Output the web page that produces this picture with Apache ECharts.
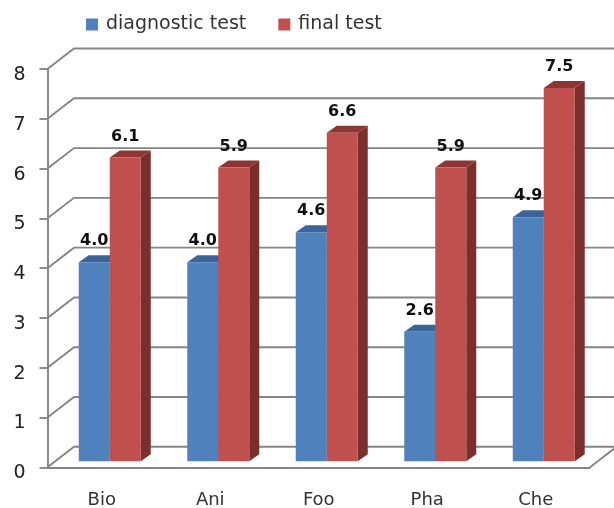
<!DOCTYPE html>
<html><head><meta charset='utf-8'>
<script src='https://cdn.jsdelivr.net/npm/echarts@6/dist/echarts.min.js'></script>
<style>html,body{margin:0;padding:0;background:#fff}</style>
</head><body><div id='chart' style='width:614px;height:508px'></div><script>
var categories = ['Bio', 'Ani', 'Foo', 'Pha', 'Che'];
var yTicks = [0, 1, 2, 3, 4, 5, 6, 7, 8];
var diagnostic = [4.0, 4.0, 4.6, 2.6, 4.9];
var finalTest = [6.1, 5.9, 6.6, 5.9, 7.5];

var font = '"DejaVu Sans", sans-serif';
var gridColor = '#858585';
var gridWidth = 1.9;
// fake 3d: how far the back wall sits from the axis plane
var wallDx = 26.5, wallDy = -20.5;
// bars stand a bit behind the axis plane and have their own depth
var barShiftX = 8, barShiftY = -6, barWidth = 31, barDx = 10, barDy = -7;

function wallItem(params, api) {
  var v = api.value(1);
  var band = api.size([1, 0])[0];
  var p = api.coord([0, v]);
  var x0 = p[0] - band / 2;
  var x1 = api.coord([categories.length - 1, v])[0] + band / 2;
  var children = [{
    type: 'polyline',
    shape: { points: [[x0, p[1]], [x0 + wallDx, p[1] + wallDy], [x1 + wallDx, p[1] + wallDy]] },
    style: { stroke: gridColor, lineWidth: gridWidth, fill: null }
  }];
  if (v === 0) {
    // right edge of the floor
    children.push({
      type: 'line',
      shape: { x1: x1, y1: p[1], x2: x1 + wallDx, y2: p[1] + wallDy },
      style: { stroke: gridColor, lineWidth: gridWidth }
    });
  }
  return { type: 'group', children: children };
}

function barRenderer(slot, front, side, top) {
  return function (params, api) {
    var i = api.value(0), v = api.value(1);
    var c = api.coord([i, v]);
    var base = api.coord([i, 0])[1] + barShiftY;
    var y = c[1] + barShiftY;
    var x = c[0] + barShiftX + (slot - 1) * barWidth;
    var r = x + barWidth;
    return {
      type: 'group',
      children: [
        { type: 'polygon', shape: { points: [[r, base], [r + barDx, base + barDy], [r + barDx, y + barDy], [r, y]] }, style: { fill: side } },
        { type: 'polygon', shape: { points: [[x, y], [x + barDx, y + barDy], [r + barDx, y + barDy], [r, y]] }, style: { fill: top } },
        { type: 'rect', shape: { x: x, y: y, width: barWidth, height: base - y }, style: { fill: front } },
        { type: 'text', style: {
          text: v.toFixed(1), x: x + barWidth / 2, y: y - 21, align: 'center', verticalAlign: 'middle',
          font: 'bold 16px ' + font, fill: '#111'
        } }
      ]
    };
  };
}

var chart = echarts.init(document.getElementById('chart'), null, { renderer: 'canvas' });
chart.setOption({
  animation: false,
  backgroundColor: '#fff',
  grid: { left: 47.5, right: 24, top: 69, bottom: 40.7, outerBoundsMode: 'none' },
  legend: {
    left: 86, top: 15, padding: 0, itemWidth: 12, itemHeight: 12, itemGap: 32, icon: 'rect',
    data: ['diagnostic test', 'final test'],
    textStyle: { fontFamily: font, fontSize: 19, color: '#333', padding: [0, 0, 0, 3] }
  },
  xAxis: {
    type: 'category', data: categories,
    axisLine: { lineStyle: { color: gridColor, width: gridWidth } },
    axisTick: { length: 7, lineStyle: { color: gridColor, width: gridWidth } },
    axisLabel: { fontFamily: font, fontSize: 18, color: '#333', margin: 24 }
  },
  yAxis: {
    type: 'value', min: 0, max: 8, interval: 1,
    splitLine: { show: false },
    axisLine: { show: true, lineStyle: { color: gridColor, width: gridWidth } },
    axisTick: { show: true, length: 8, lineStyle: { color: gridColor, width: gridWidth } },
    axisLabel: { fontFamily: font, fontSize: 19, color: '#222', margin: 22, verticalAlign: 'top', lineHeight: 12 }
  },
  series: [
    {
      type: 'custom', name: 'walls', z: 1, clip: false, silent: true,
      renderItem: wallItem, encode: { x: 0, y: 1 },
      data: yTicks.map(function (v) { return [0, v]; })
    },
    {
      type: 'custom', name: 'diagnostic test', z: 2, clip: false,
      itemStyle: { color: '#4f81bd' },
      renderItem: barRenderer(0, '#4f81bd', '#2f5587', '#3c6496'), encode: { x: 0, y: 1 },
      data: diagnostic.map(function (v, i) { return [i, v]; })
    },
    {
      type: 'custom', name: 'final test', z: 3, clip: false,
      itemStyle: { color: '#c0504d' },
      renderItem: barRenderer(1, '#c0504d', '#7a2f2d', '#8c3734'), encode: { x: 0, y: 1 },
      data: finalTest.map(function (v, i) { return [i, v]; })
    }
  ]
});
</script></body></html>
